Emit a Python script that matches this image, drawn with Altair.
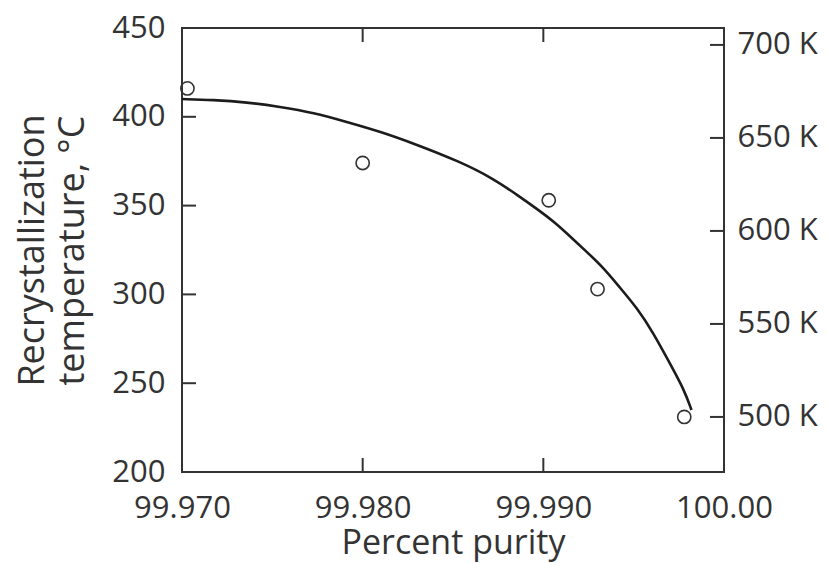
import altair as alt
import pandas as pd

# ---- data ----
purity_pts = [99.9703, 99.9800, 99.9903, 99.9930, 99.9978]
temp_pts = [416, 374, 353, 303, 231]

curve_purity = [99.9700, 99.9717, 99.9736, 99.9754, 99.9773, 99.9791, 99.9810,
                99.9828, 99.9854, 99.9872, 99.9887, 99.9896, 99.9906, 99.9915,
                99.9924, 99.9933, 99.9942, 99.9952, 99.9961, 99.9970, 99.9978,
                99.9982]
curve_temp = [410, 409.5, 408.2, 405.7, 402.3, 397.2, 391.6,
              385.1, 374.7, 365.4, 355.0, 348.5, 340.9, 332.5,
              324.0, 315.3, 304.3, 292.2, 278.1, 261.2, 246.2,
              234.9]

x_ticks = [99.970, 99.980, 99.990, 100.000]
x_tick_labels = ["99.970", "99.980", "99.990", "100.00"]
x_inner_ticks = [99.980, 99.990]
c_ticks = [200, 250, 300, 350, 400, 450]
c_inner_ticks = [250, 300, 350, 400]
k_ticks = [500, 550, 600, 650, 700]
k_tick_labels = ["500 K", "550 K", "600 K", "650 K", "700 K"]

x_domain = [99.970, 100.000]
c_domain = [200, 450]
k_domain = [470.4, 709.1]

FONT = "Open Sans"
INK = "#333333"
W, H = 542, 444
LABEL_FS = 31
TICK = 14


def label_expr(values, labels):
    expr = "''"
    for v, lab in reversed(list(zip(values, labels))):
        expr = f"abs(datum.value - {v}) < 1e-6 ? '{lab}' : ({expr})"
    return expr


pts = pd.DataFrame({"purity": purity_pts, "temp": temp_pts})
curve = pd.DataFrame({"purity": curve_purity, "temp": curve_temp})
kdf = pd.DataFrame({"kelvin": k_ticks})
xtick_df = pd.DataFrame({"purity": x_inner_ticks})
ctick_df = pd.DataFrame({"temp": c_inner_ticks})

xscale = alt.Scale(domain=x_domain, nice=False, zero=False)
cscale = alt.Scale(domain=c_domain, nice=False, zero=False)
kscale = alt.Scale(domain=k_domain, nice=False, zero=False)

common = dict(
    ticks=False, tickSize=0, domain=False, grid=False,
    labelFont=FONT, labelFontSize=LABEL_FS, labelColor=INK,
    labelOverlap=False, labelFlush=False, labelBound=False,
)

curve_layer = alt.Chart(curve).mark_line(
    color="#1c1c1c", strokeWidth=2.6, interpolate="basis"
).encode(
    x=alt.X("purity:Q", scale=xscale, axis=alt.Axis(
        orient="bottom", values=x_ticks,
        labelExpr=label_expr(x_ticks, x_tick_labels), labelPadding=21,
        title="Percent purity", titleFont=FONT, titleFontSize=34,
        titleFontWeight="normal", titleColor=INK, titlePadding=3,
        **common)),
    y=alt.Y("temp:Q", scale=cscale, axis=alt.Axis(
        orient="left", values=c_ticks, labelPadding=17,
        title=["Recrystallization", "temperature, °C"], titleFont=FONT,
        titleFontSize=36, titleFontWeight="normal", titleColor=INK,
        titleLineHeight=40, titlePadding=20,
        **common)),
)

point_layer = alt.Chart(pts).mark_point(
    shape="circle", filled=False, size=175, strokeWidth=1.6, color=INK, opacity=1
).encode(
    x=alt.X("purity:Q", scale=xscale, axis=None),
    y=alt.Y("temp:Q", scale=cscale, axis=None),
)

k_layer = alt.Chart(kdf).mark_rule(color=INK, strokeWidth=2).encode(
    y=alt.Y("kelvin:Q", scale=kscale, axis=alt.Axis(
        orient="right", values=k_ticks,
        labelExpr=label_expr(k_ticks, k_tick_labels), labelPadding=13,
        title=None, **common)),
    x=alt.value(W - TICK), x2=alt.value(W),
)

# inward tick marks on the bottom, top and left edges
bottom_ticks = alt.Chart(xtick_df).mark_rule(color=INK, strokeWidth=2).encode(
    x=alt.X("purity:Q", scale=xscale, axis=None),
    y=alt.value(H - TICK), y2=alt.value(H),
)
top_ticks = alt.Chart(xtick_df).mark_rule(color=INK, strokeWidth=2).encode(
    x=alt.X("purity:Q", scale=xscale, axis=None),
    y=alt.value(0), y2=alt.value(TICK),
)
left_ticks = alt.Chart(ctick_df).mark_rule(color=INK, strokeWidth=2).encode(
    y=alt.Y("temp:Q", scale=cscale, axis=None),
    x=alt.value(0), x2=alt.value(TICK),
)

chart = alt.layer(
    curve_layer, point_layer, bottom_ticks, top_ticks, left_ticks, k_layer
).resolve_scale(
    y="independent"
).resolve_axis(
    x="independent", y="independent"
).properties(
    width=W, height=H,
    autosize=alt.AutoSizeParams(type="none"),
    padding={"left": 182, "top": 28, "right": 104, "bottom": 91},
    background="white",
).configure_view(
    stroke=INK, strokeWidth=2
)

chart.save("out.html", embed_options={"renderer": "svg", "actions": False})
